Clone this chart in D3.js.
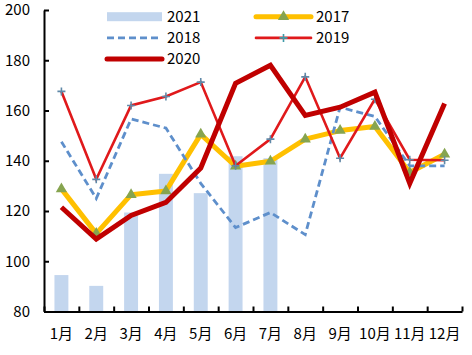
<!DOCTYPE html>
<html><head><meta charset="utf-8">
<script src="https://cdn.jsdelivr.net/npm/d3@7"></script>
<style>body{margin:0;background:#fff}svg{display:block}text{font-family:"Noto Sans CJK SC","Noto Sans",sans-serif;fill:#000}</style>
</head><body>
<script>
const months = ["1月","2月","3月","4月","5月","6月","7月","8月","9月","10月","11月","12月"];
const yTicks = [80,100,120,140,160,180,200];
const s2021 = [94.5,90.2,119.4,134.8,127.1,141.8,141.0,null,null,null,null,null];
const s2017 = [128.8,111.0,126.5,128.0,150.5,137.8,139.8,148.6,152.0,153.6,135.3,142.6];
const s2018 = [147.6,125.0,156.6,153.0,131.0,113.4,119.4,110.6,161.3,157.6,138.0,138.0];
const s2019 = [167.6,132.6,162.0,165.6,171.3,138.0,148.6,173.4,141.0,164.5,140.4,140.2];
const s2020 = [121.5,108.8,118.2,123.4,137.1,170.8,178.0,158.0,161.3,167.3,131.0,162.8];

const W=472,H=355;
const svg=d3.select("body").append("svg").attr("width",W).attr("height",H);
const x=d3.scaleBand().domain(months).range([44,462]).padding(0);
const y=d3.scaleLinear().domain([80,200]).range([311.5,10]);
const cx=m=>x(m)+x.bandwidth()/2;

// bars
const bw=x.bandwidth()*0.4;
svg.append("g").selectAll("rect").data(months.map((m,i)=>({m,v:s2021[i]})).filter(d=>d.v!=null))
 .join("rect").attr("x",d=>cx(d.m)-bw/2).attr("width",bw)
 .attr("y",d=>y(d.v)).attr("height",d=>y(80)-y(d.v)).attr("fill","#C3D6EE");

const line=d3.line().defined(d=>d.v!=null).x(d=>cx(d.m)).y(d=>y(d.v));
const toPts=arr=>months.map((m,i)=>({m,v:arr[i]}));

// 2017
svg.append("path").datum(toPts(s2017)).attr("d",line).attr("fill","none")
 .attr("stroke","#FFC000").attr("stroke-width",5).attr("stroke-linejoin","round");
svg.append("g").selectAll("path").data(toPts(s2017)).join("path")
 .attr("d",d3.symbol(d3.symbolTriangle,55)).attr("transform",d=>`translate(${cx(d.m)},${y(d.v)})`)
 .attr("fill","#86A44F");
// 2018
svg.append("path").datum(toPts(s2018)).attr("d",line).attr("fill","none")
 .attr("stroke","#5E8FCB").attr("stroke-width",2.8).attr("stroke-dasharray","7,4");
// 2019
svg.append("path").datum(toPts(s2019)).attr("d",line).attr("fill","none")
 .attr("stroke","#E0191B").attr("stroke-width",2.6);
svg.append("g").selectAll("path").data(toPts(s2019)).join("path")
 .attr("d",d3.symbol(d3.symbolCross,0).size(1)).attr("d","M-4,0H4M0,-4V4")
 .attr("transform",d=>`translate(${cx(d.m)},${y(d.v)})`)
 .attr("stroke","#5F89A8").attr("stroke-width",1.6);
// 2020
svg.append("path").datum(toPts(s2020)).attr("d",line).attr("fill","none")
 .attr("stroke","#C00000").attr("stroke-width",5);

// axes
const ya=svg.append("g").attr("transform","translate(44,0)")
 .call(d3.axisLeft(y).tickValues(yTicks).tickSize(-5).tickSizeOuter(0).tickPadding(14));
const xl=svg.append("g").attr("transform","translate(0,311.5)")
 .call(d3.axisBottom(x).tickSize(0).tickPadding(17));
xl.select(".domain").remove();
const xb=d3.scaleLinear().domain([0,12]).range([44,462]);
const xt=svg.append("g").attr("transform","translate(0,311.5)")
 .call(d3.axisBottom(xb).ticks(12).tickSize(-5).tickSizeOuter(0).tickFormat(""));
[ya,xt].forEach(g=>{g.select(".domain").attr("stroke","#000").attr("stroke-width",2);
 g.selectAll(".tick line").attr("stroke","#000").attr("stroke-width",2);});
ya.selectAll("text").attr("font-size",15).style("font-family",'"Noto Sans CJK SC",sans-serif');
xl.selectAll("text").attr("font-size",15).style("font-family",'"Noto Sans CJK SC",sans-serif');

// legend
const leg=[
 {name:"2021",col:0,row:0,type:"bar"},
 {name:"2017",col:1,row:0,type:"2017"},
 {name:"2018",col:0,row:1,type:"2018"},
 {name:"2019",col:1,row:1,type:"2019"},
 {name:"2020",col:0,row:2,type:"2020"}];
const lg=svg.append("g");
leg.forEach(d=>{
 const x0=d.col?256:107, x1=x0+55, yy=16.7+d.row*21.2;
 const g=lg.append("g");
 if(d.type==="bar") g.append("rect").attr("x",x0).attr("y",yy-4.5).attr("width",55).attr("height",9).attr("fill","#C3D6EE");
 if(d.type==="2017"){g.append("line").attr("x1",x0).attr("x2",x1).attr("y1",yy).attr("y2",yy).attr("stroke","#FFC000").attr("stroke-width",5).attr("stroke-linecap","round");
   g.append("path").attr("d",d3.symbol(d3.symbolTriangle,55)).attr("transform",`translate(${(x0+x1)/2},${yy})`).attr("fill","#86A44F");}
 if(d.type==="2018") g.append("line").attr("x1",x0).attr("x2",x1).attr("y1",yy).attr("y2",yy).attr("stroke","#5E8FCB").attr("stroke-width",2.8).attr("stroke-dasharray","7,4");
 if(d.type==="2019"){g.append("line").attr("x1",x0).attr("x2",x1).attr("y1",yy).attr("y2",yy).attr("stroke","#E0191B").attr("stroke-width",2.6).attr("stroke-linecap","round");
   g.append("path").attr("d","M-4,0H4M0,-4V4").attr("transform",`translate(${(x0+x1)/2},${yy})`).attr("stroke","#3F9AA8").attr("stroke-width",1.6);}
 if(d.type==="2020") g.append("line").attr("x1",x0).attr("x2",x1).attr("y1",yy).attr("y2",yy).attr("stroke","#C00000").attr("stroke-width",5).attr("stroke-linecap","round");
 g.append("text").attr("x",x1+5).attr("y",yy).attr("dy","0.35em").attr("font-size",15).text(d.name);
});
</script>
</body></html>
